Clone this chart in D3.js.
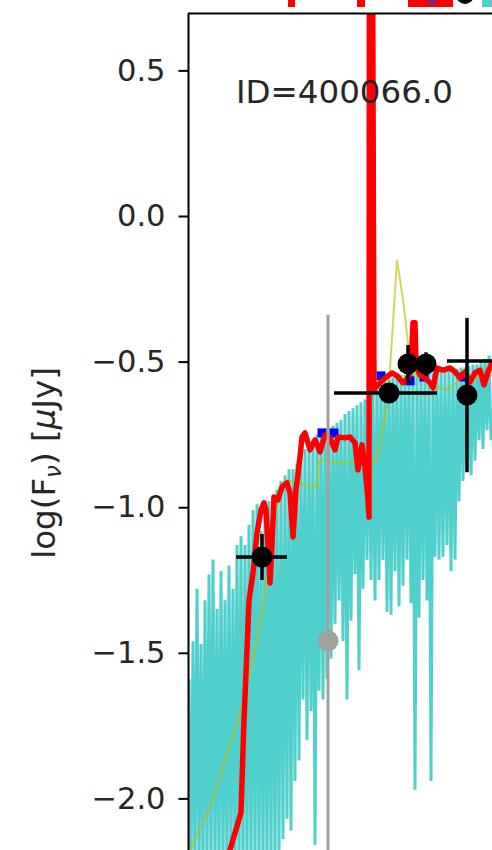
<!DOCTYPE html>
<html>
<head>
<meta charset="utf-8">
<script src="https://cdn.jsdelivr.net/npm/d3@7"></script>
<style>
  html, body { margin: 0; padding: 0; background: #fff; }
  svg { display: block; }
  text { font-family: "DejaVu Sans", sans-serif; }
</style>
</head>
<body>
<svg id="chart" width="492" height="850"></svg>
<script>
// ---- data: log10(wavelength / Å) vs log10(F_nu / µJy) ----

// observed spectrum, uniform wavelength grid
const specStart = 3.5;
const specStep = 0.004;
const specFlux = [
  -1.59, -2.25, -1.46, -2.25, -1.28, -2.25, -1.47, -2.25, -1.32, -2.25,
  -1.23, -2.25, -1.18, -2.25, -1.35, -2.25, -1.22, -2.25, -1.32, -2.25,
  -1.20, -2.25, -1.28, -2.25, -1.13, -2.25, -1.10, -2.25, -1.13, -2.25,
  -1.06, -2.25, -1.01, -2.25, -0.99, -2.25, -1.08, -2.25, -1.03, -2.25,
  -0.98, -2.25, -0.96, -2.25, -0.94, -2.19, -0.91, -2.14, -0.89, -2.07,
  -0.87, -2.11, -0.87, -1.94, -0.85, -1.87, -0.82, -1.66, -0.80, -1.80,
  -0.79, -1.70, -0.77, -2.16, -0.75, -1.63, -0.74, -1.66, -0.73, -1.59,
  -0.73, -1.52, -0.72, -1.40, -0.71, -1.32, -0.70, -1.46, -0.68, -1.66,
  -0.67, -1.39, -0.66, -1.23, -0.65, -1.56, -0.64, -1.28, -0.63, -1.18,
  -0.61, -1.25, -0.60, -1.32, -0.58, -1.25, -0.57, -1.18, -0.56, -1.36,
  -0.56, -1.37, -0.555, -1.22, -0.55, -1.34, -0.545, -1.27, -0.545, -1.18,
  -0.54, -1.33, -0.54, -1.97, -0.535, -1.38, -0.535, -1.25, -0.54, -1.32,
  -0.54, -1.94, -0.54, -1.17, -0.535, -1.18, -0.535, -1.17, -0.53, -1.13,
  -0.53, -1.22, -0.53, -1.18, -0.525, -0.98, -0.52, -0.91, -0.52, -0.87,
  -0.515, -0.89, -0.51, -0.84, -0.51, -0.77, -0.50, -0.80, -0.49, -0.735,
  -0.48, -0.77
];

// best-fit model SED [wave, flux]
const modelSED = [
  [3.574, -2.280], [3.582, -2.177], [3.598, -2.084], [3.604, -2.047], [3.610, -1.730],
  [3.616, -1.490], [3.620, -1.319], [3.628, -1.226], [3.636, -1.088], [3.644, -1.010],
  [3.650, -0.985], [3.654, -1.010], [3.658, -1.130], [3.662, -1.260], [3.666, -1.130],
  [3.670, -0.965], [3.678, -0.975], [3.686, -0.930], [3.696, -0.917], [3.702, -0.951],
  [3.708, -1.102], [3.714, -0.941], [3.722, -0.828], [3.726, -0.759], [3.732, -0.745],
  [3.742, -0.803], [3.752, -0.769], [3.762, -0.810], [3.772, -0.752], [3.782, -0.762],
  [3.792, -0.803], [3.798, -0.759], [3.812, -0.762], [3.822, -0.759], [3.832, -0.779],
  [3.838, -0.872], [3.846, -0.786], [3.852, -0.862], [3.858, -0.975], [3.860, -1.034],
  [3.861, 1.500], [3.866, 1.500], [3.870, -0.597], [3.878, -0.580], [3.892, -0.556],
  [3.906, -0.539], [3.916, -0.549], [3.928, -0.573], [3.938, -0.556], [3.944, -0.529],
  [3.948, -0.367], [3.952, -0.367], [3.954, -0.511], [3.962, -0.546], [3.972, -0.556],
  [3.982, -0.573], [3.988, -0.590], [3.996, -0.522], [4.008, -0.529], [4.022, -0.522],
  [4.032, -0.535], [4.042, -0.556], [4.052, -0.535], [4.062, -0.570], [4.072, -0.539],
  [4.082, -0.529], [4.090, -0.580], [4.098, -0.535], [4.106, -0.505], [4.114, -0.512],
  [4.130, -0.530], [4.150, -0.520]
];

// secondary (stellar-only) model [wave, flux]
const stellarSED = [
  [3.494, -2.280], [3.502, -2.177], [3.542, -2.029], [3.602, -1.707], [3.632, -1.490],
  [3.646, -1.353], [3.654, -1.260], [3.662, -1.164], [3.676, -0.999], [3.692, -0.907],
  [3.722, -0.917], [3.754, -0.931], [3.760, -0.838], [3.816, -0.848], [3.876, -0.838],
  [3.884, -0.769], [3.898, -0.632], [3.916, -0.151], [3.928, -0.288], [3.938, -0.436],
  [3.944, -0.522], [3.962, -0.563], [4.016, -0.597], [4.042, -0.563], [4.082, -0.553],
  [4.114, -0.546]
];

// model photometry
const modelPhotWave = [3.766, 3.790, 3.884, 3.942, 3.970, 4.050];
const modelPhotFlux = [-0.745, -0.745, -0.549, -0.566, -0.553, -0.553];

// measured photometry
const photWave      = [3.646, 3.900, 3.938, 3.974, 4.056, 4.152];
const photFlux      = [-1.171, -0.608, -0.508, -0.508, -0.615, -0.498];
const photWaveErrLo = [0.052, 0.110, 0.008, 0.008, 0.000, 0.136];
const photWaveErrHi = [0.050, 0.096, 0.008, 0.008, 0.000, 0.136];
const photFluxErr   = [0.079, 0.030, 0.065, 0.040, 0.265, 0.050];

// low S/N photometry
const lowWave    = [3.778];
const lowFlux    = [-1.459];
const lowFluxErr = [1.12];

// bottom edge of the panel above
const upperRedSpans  = [[3.698, 3.712], [3.836, 3.852], [3.938, 4.028]];
const upperDarkDots  = [3.986];
const upperBlackDots = [4.052];
const upperCyanSpans = [[4.086, 4.120]];

const yTicks = [0.5, 0.0, -0.5, -1.0, -1.5, -2.0];
const idLabel = "ID=400066.0";

// ---- layout ----
const svg = d3.select("#chart");
const x = d3.scaleLinear().domain([3.5, 4.1]).range([189, 489]);
const y = d3.scaleLinear().domain([-2.0, 0.5]).range([798.4, 70.4]);
const yTop = 0.695, yBottom = -2.35, xRight = 4.25;

// upper panel fragments
const up = svg.append("g");
up.selectAll("rect.ur").data(upperRedSpans).join("rect")
  .attr("x", d => x(d[0])).attr("width", d => x(d[1]) - x(d[0]))
  .attr("y", 0).attr("height", 7).attr("fill", "#ff0000");
up.selectAll("circle.ud").data(upperDarkDots).join("circle")
  .attr("cx", d => x(d)).attr("cy", 1).attr("r", 4).attr("fill", "#7a2a80");
up.selectAll("circle.ub").data(upperBlackDots).join("circle")
  .attr("cx", d => x(d)).attr("cy", -5).attr("r", 9).attr("fill", "#000");
up.selectAll("rect.uc").data(upperCyanSpans).join("rect")
  .attr("x", d => x(d[0])).attr("width", d => x(d[1]) - x(d[0]))
  .attr("y", 0).attr("height", 7).attr("fill", "#50d0cc");

// clip to the axes area
svg.append("clipPath").attr("id", "plotclip").append("rect")
  .attr("x", x(3.5)).attr("y", y(yTop))
  .attr("width", x(xRight) - x(3.5)).attr("height", y(yBottom) - y(yTop));

const plot = svg.append("g").attr("clip-path", "url(#plotclip)");

// observed spectrum
const specPts = specFlux.map((f, i) => [specStart + i * specStep, f]);
const line = d3.line().x(d => x(d[0])).y(d => y(d[1]));
plot.append("path").datum(specPts)
  .attr("d", line).attr("fill", "none")
  .attr("stroke", "#50d0cc").attr("stroke-width", 3)
  .attr("stroke-linejoin", "miter");

// stellar model
plot.append("path").datum(stellarSED)
  .attr("d", line).attr("fill", "none")
  .attr("stroke", "#bfbf00").attr("stroke-opacity", 0.65)
  .attr("stroke-width", 2);

// model photometry
plot.selectAll("rect.mp").data(modelPhotWave).join("rect")
  .attr("x", (d, i) => x(d) - 4.5).attr("y", (d, i) => y(modelPhotFlux[i]) - 4.5)
  .attr("width", 9).attr("height", 9).attr("fill", "#0000ff");

// best-fit model
plot.append("path").datum(modelSED)
  .attr("d", line).attr("fill", "none")
  .attr("stroke", "#ff0000").attr("stroke-width", 5.5)
  .attr("stroke-linejoin", "round");

// low S/N point
const lowG = plot.append("g");
lowG.selectAll("line").data(lowWave).join("line")
  .attr("x1", d => x(d)).attr("x2", d => x(d))
  .attr("y1", (d, i) => y(lowFlux[i] + lowFluxErr[i]))
  .attr("y2", (d, i) => y(lowFlux[i] - lowFluxErr[i]))
  .attr("stroke", "#a0a0a0").attr("stroke-width", 3);
lowG.selectAll("circle").data(lowWave).join("circle")
  .attr("cx", d => x(d)).attr("cy", (d, i) => y(lowFlux[i]))
  .attr("r", 10.5).attr("fill", "#a0a0a0");

// measured photometry with error bars
const ph = plot.append("g");
ph.selectAll("line.xe").data(photWave).join("line").attr("class", "xe")
  .attr("x1", (d, i) => x(d - photWaveErrLo[i])).attr("x2", (d, i) => x(d + photWaveErrHi[i]))
  .attr("y1", (d, i) => y(photFlux[i])).attr("y2", (d, i) => y(photFlux[i]))
  .attr("stroke", "#000").attr("stroke-width", 3.5);
ph.selectAll("line.ye").data(photWave).join("line").attr("class", "ye")
  .attr("x1", d => x(d)).attr("x2", d => x(d))
  .attr("y1", (d, i) => y(photFlux[i] + photFluxErr[i]))
  .attr("y2", (d, i) => y(photFlux[i] - photFluxErr[i]))
  .attr("stroke", "#000").attr("stroke-width", 3.5);
ph.selectAll("circle").data(photWave).join("circle")
  .attr("cx", d => x(d)).attr("cy", (d, i) => y(photFlux[i]))
  .attr("r", 10.5).attr("fill", "#000");

// object label
svg.append("text").attr("x", 236).attr("y", 103)
  .attr("font-size", 32.5).attr("fill", "#262626").text(idLabel);

// spines
svg.append("line").attr("x1", 188.5).attr("x2", 188.5)
  .attr("y1", y(yTop)).attr("y2", 850)
  .attr("stroke", "#000").attr("stroke-width", 2);
svg.append("line").attr("x1", 188).attr("x2", 492)
  .attr("y1", y(yTop)).attr("y2", y(yTop))
  .attr("stroke", "#000").attr("stroke-width", 2);

// y axis
const yAxis = d3.axisLeft(y).tickValues(yTicks).tickSize(10).tickPadding(13)
  .tickFormat(d3.format(".1f"));
const ag = svg.append("g").attr("transform", "translate(188.5,0)").call(yAxis);
ag.select(".domain").remove();
ag.selectAll(".tick line").attr("stroke", "#000").attr("stroke-width", 2);
ag.selectAll(".tick text").attr("font-size", 30.5).attr("fill", "#262626")
  .attr("font-family", "DejaVu Sans");

// y axis title
const yl = svg.append("text")
  .attr("transform", "translate(55," + 463 + ") rotate(-90)")
  .attr("text-anchor", "middle").attr("font-size", 32.5).attr("fill", "#262626");
yl.append("tspan").text("log(F");
yl.append("tspan").attr("font-style", "italic").attr("font-size", 23).attr("dy", 6).text("ν");
yl.append("tspan").attr("dy", -6).text(") [");
yl.append("tspan").attr("font-style", "italic").text("μ");
yl.append("tspan").text("Jy]");
</script>
</body>
</html>
